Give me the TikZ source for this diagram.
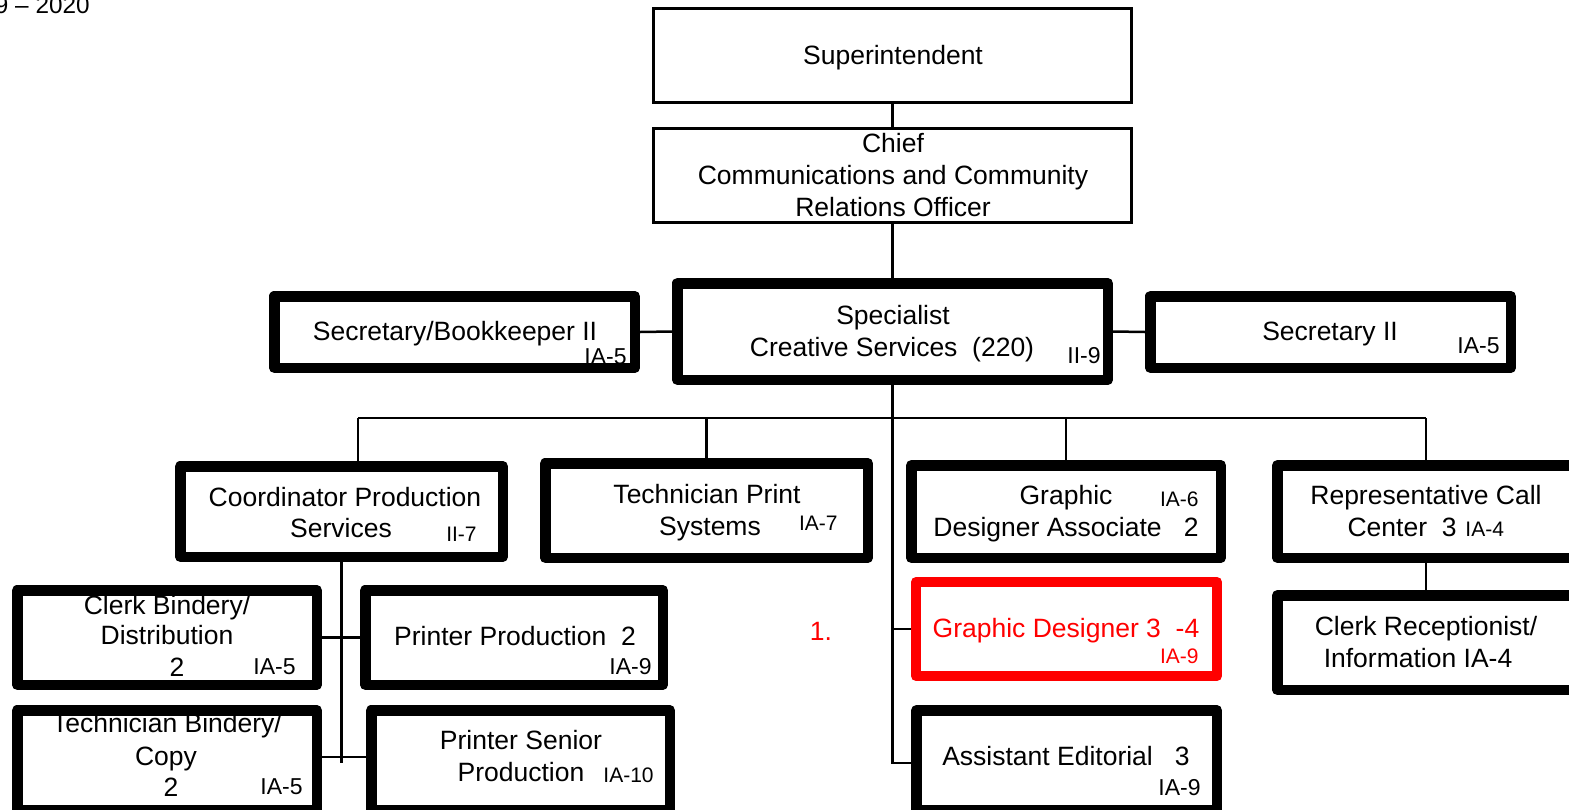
\documentclass[tikz,border=0pt]{standalone}
\usepackage{fontspec}
\setmainfont{Liberation Sans}
\begin{document}
\begin{tikzpicture}[x=0.5pt,y=-0.5pt,
  wpx/.style={minimum width=#1*0.5pt},
  hpx/.style={minimum height=#1*0.5pt},
  thinbox/.style={draw, line width=1.5pt, inner sep=0pt},
  thickbox/.style={draw, line width=5.25pt, inner sep=0pt, line join=round},
  redbox/.style={draw=red, line width=5pt, inner sep=0pt, line join=round},
  conn/.style={line width=1.25pt},
  txt/.style={anchor=base, inner sep=0pt, font=\fontsize{13.25}{15}\selectfont},
  gl/.style={anchor=base east, inner sep=0pt, font=\fontsize{11.5}{13}\selectfont},
  gs/.style={anchor=base east, inner sep=0pt, font=\fontsize{10.5}{12}\selectfont},
]
\useasboundingbox (0,0) rectangle (1569,809);

% boxes
\node[thinbox, wpx=478, hpx=94] (sup) at (892.5,55.5) {};
\node[thinbox, wpx=478, hpx=94] (chief) at (892.5,175.5) {};
\node[thickbox, wpx=360.5, hpx=71.5] (sbk) at (454.5,332) {};
\node[thickbox, wpx=430.5, hpx=96.5] (spec) at (892.5,331.5) {};
\node[thickbox, wpx=360.5, hpx=71.5] (sec2) at (1330.5,332) {};
\node[thickbox, wpx=322.5, hpx=90.5] (coord) at (341.5,511.5) {};
\node[thickbox, wpx=322.5, hpx=94.5] (tps) at (706.5,510.5) {};
\node[thickbox, wpx=309.5, hpx=92.5] (gda) at (1066,511.5) {};
\node[thickbox, wpx=297.5, hpx=92.5] (rcc) at (1426,511.5) {};
\node[thickbox, wpx=299.5, hpx=94.5] (cbd) at (167,637.5) {};
\node[thickbox, wpx=297.5, hpx=94.5] (pp) at (514,637.5) {};
\node[thickbox, wpx=299.5, hpx=99.5] (tbc) at (167,760) {};
\node[thickbox, wpx=298.5, hpx=99.5] (psp) at (520.5,760) {};
\node[redbox, wpx=301, hpx=94] (gd3) at (1066.5,629) {};
\node[thickbox, wpx=300.5, hpx=99.5] (ae) at (1066.5,760) {};
\node[thickbox, wpx=297.5, hpx=94.5] (crec) at (1426,642.5) {};

% connectors
\coordinate (bL) at (358,418);
\coordinate (bR) at (1426,418);
\draw[conn] (sup.south) -- (chief.north);
\draw[conn] (chief.south) -- (spec.north);
\draw[conn] (sbk.east) -- (spec.west);
\draw[conn] (sec2.west) -- (spec.east);
\draw[conn] (bL) -- (bR);
\draw[conn] (bL) -- (bL |- coord.north);
\draw[conn] (tps.north) -- (tps.north |- bL);
\draw[conn] (gda.north) -- (gda.north |- bL);
\draw[conn] (bR) -- (rcc.north);
\draw[conn] (spec.south) |- ([yshift=-1.5pt]ae.west);
\draw[conn] (gd3.west -| spec.south) -- (gd3.west);
\draw[conn] (coord.south) -- ([yshift=-1.5pt]coord.south |- tbc.east);
\draw[conn] (cbd.east) -- (pp.west);
\draw[conn] ([yshift=1.5pt]tbc.east) -- ([yshift=1.5pt]psp.west);
\draw[conn] (rcc.south) -- (crec.north);

% texts
\node[txt, anchor=base east, font=\fontsize{12.15}{14}\selectfont] (yr) at (90,13) {2019 -- 2020};
\node[txt] (t1) at (893,64) {Superintendent};
\node[txt] (t2a) at (893,152) {Chief};
\node[txt] (t2b) at (893,184) {Communications and Community};
\node[txt] (t2c) at (893,216) {Relations Officer};
\node[txt] (t3) at (455,340) {Secretary/Bookkeeper II};
\node[gl] (g3) at (627,364) {IA-5};
\node[txt] (t4a) at (893,324) {Specialist};
\node[txt] (t4b) at (892,356) {Creative Services\ \ (220)};
\node[gl] (g4) at (1101,363) {II-9};
\node[txt] (t5) at (1330,340) {Secretary II};
\node[gl] (g5) at (1500,353) {IA-5};
\node[txt] (t6a) at (345,506) {Coordinator Production};
\node[txt] (t6b) at (341,537) {Services};
\node[gs] (g6) at (477,541) {II-7};
\node[txt] (t7a) at (707,503) {Technician Print};
\node[txt] (t7b) at (710,535) {Systems};
\node[gs] (g7) at (838,530) {IA-7};
\node[txt] (t8a) at (1066,504) {Graphic};
\node[gs] (g8) at (1199,506) {IA-6};
\node[txt] (t8b) at (1066,536) {Designer Associate~~~2};
\node[txt] (t9a) at (1426,504) {Representative Call};
\node[txt, anchor=base east] (t9b) at (1457,536) {Center\ \ 3};
\node[gs, anchor=base west] (g9) at (1465,536) {IA-4};
\node[txt] (t10a) at (167,614) {Clerk Bindery/};
\node[txt] (t10b) at (167,644) {Distribution};
\node[txt] (t10c) at (177,676) {2};
\node[gl] (g10) at (296,674) {IA-5};
\node[txt] (t11) at (515,645) {Printer Production\ \ 2};
\node[gl] (g11) at (652,674) {IA-9};
\node[txt] (t12a) at (167,732) {Technician Bindery/};
\node[txt] (t12b) at (166,765) {Copy};
\node[txt] (t12c) at (171,796) {2};
\node[gl] (g12) at (303,794) {IA-5};
\node[txt] (t13a) at (521,749) {Printer Senior};
\node[txt] (t13b) at (521,781) {Production};
\node[gs] (g13) at (654,782) {IA-10};
\node[txt, text=red] (t14) at (1066,637) {Graphic Designer 3\ \ -4};
\node[gs, text=red] (g14) at (1199,663) {IA-9};
\node[txt, text=red] (n1) at (821,640) {1.};
\node[txt] (t15) at (1066,765) {Assistant Editorial\ \ \ 3};
\node[gl] (g15) at (1201,795) {IA-9};
\node[txt] (t16a) at (1426,635) {Clerk Receptionist/};
\node[txt] (t16b) at (1418,667) {Information IA-4};
\end{tikzpicture}
\end{document}
